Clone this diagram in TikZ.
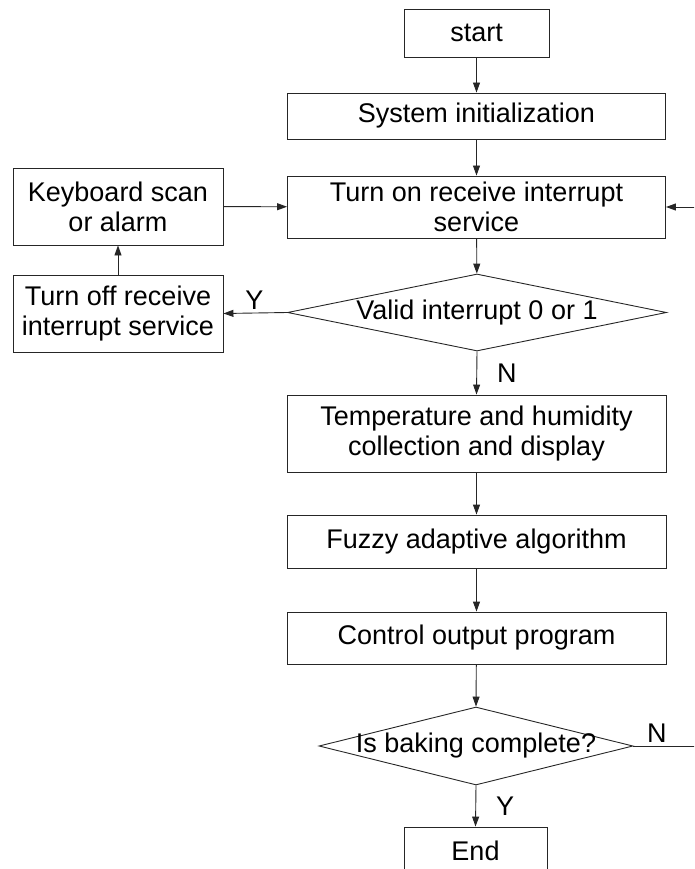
\documentclass[tikz,border=0pt]{standalone}
\usepackage{fontspec}
\setmainfont{Liberation Sans}
\usetikzlibrary{shapes.geometric,arrows.meta}
\begin{document}
\begin{tikzpicture}[x=1pt,y=-1pt,
  every node/.style={font=\fontsize{27}{30}\selectfont, inner sep=0pt},
  box/.style={draw=black!85, line width=0.9pt, rectangle, align=center},
  dia/.style={draw=black!85, line width=0.9pt, diamond},
  arr/.style={draw=black!85, line width=0.9pt, -{Triangle[length=10pt,width=7pt]}},
  ln/.style={draw=black!85, line width=0.9pt}]
\useasboundingbox (0,0) rectangle (694,869);
\clip (0,0) rectangle (694,869);
\node[box, minimum width=145pt, minimum height=48pt] (start) at (476.5,33) {start};
\node[box, minimum width=378pt, minimum height=46pt] (init) at (476.5,116) {System initialization};
\node[box, minimum width=378pt, minimum height=62pt] (on) at (476.5,207) {Turn on receive interrupt\\service};
\node[box, minimum width=210pt, minimum height=77pt] (kb) at (118,206.5) {Keyboard scan\\or alarm};
\node[box, minimum width=210pt, minimum height=77pt] (off) at (118,313.5) {Turn off receive\\interrupt service};
\node[dia, minimum width=379pt, minimum height=77pt] (valid) at (477,312.5) {\makebox[0pt]{Valid interrupt 0 or 1}};
\node[box, minimum width=379pt, minimum height=77pt] (temp) at (476.5,433.5) {Temperature and humidity\\collection and display};
\node[box, minimum width=379pt, minimum height=53pt] (fuzzy) at (476.5,541.5) {Fuzzy adaptive algorithm};
\node[box, minimum width=379pt, minimum height=52pt] (ctrl) at (476.5,638) {Control output program};
\node[dia, minimum width=314pt, minimum height=78pt] (bake) at (476,746) {\makebox[0pt]{Is baking complete?}};
\node[box, minimum width=143pt, minimum height=70pt] (endb) at (475.5,862) {};
\node at (475.5,851) {End};
\coordinate (r1) at (720,746);
\coordinate (r2) at (720,207);
\draw[arr] (start) -- (init);
\draw[arr] (init) -- (on);
\draw[arr] (on) -- (valid);
\draw[arr] (valid.west) -- node[above=3pt, xshift=-1pt] {Y} (off.east);
\draw[arr] (off) -- (kb);
\draw[arr] (kb) -- (on);
\draw[arr] (valid.south) -- node[right=20pt] {N} (temp.north);
\draw[arr] (temp) -- (fuzzy);
\draw[arr] (fuzzy) -- (ctrl);
\draw[arr] (ctrl) -- (bake.north);
\draw[arr] (bake.south) -- node[right=20pt] {Y} (endb.north);
\draw[arr] (bake.east) -- node[above=3pt, pos=0.27] {N} (r1) -- (r2) -- (on.east);
\end{tikzpicture}
\end{document}
